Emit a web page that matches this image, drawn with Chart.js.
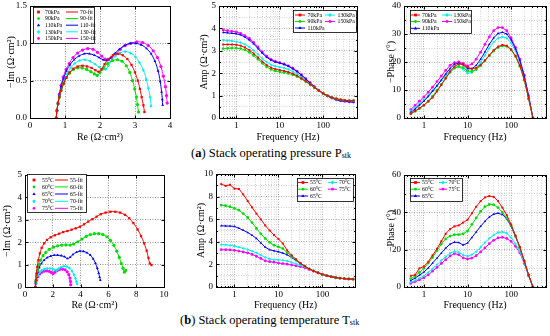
<!DOCTYPE html>
<html>
<head>
<meta charset="utf-8">
<script src="https://cdn.jsdelivr.net/npm/chart.js@4/dist/chart.umd.min.js"></script>
<style>
  html,body{margin:0;padding:0;background:#fff;}
  body{width:550px;height:336px;position:relative;overflow:hidden;}
  canvas{position:absolute;}
  .cap{position:absolute;font-family:"Liberation Serif","Times New Roman",serif;font-size:12.5px;color:#000;white-space:nowrap;line-height:14px;}
  .cap sub{font-size:8px;vertical-align:-1px;}
</style>
</head>
<body>
<div class="cap" style="left:191px;top:146px;">(<b>a</b>) Stack operating pressure P<sub>stk</sub></div>
<div class="cap" style="left:180px;top:313px;">(<b>b</b>) Stack operating temperature T<sub>stk</sub></div>
<script>
// ---------------- DATA ----------------
const pressureLabels = ['70kPa','90kPa','110kPa','130kPa','150kPa'];
const pressureFitLabels = ['70-fit','90-fit','110-fit','130-fit','150-fit'];
const tempLabels = ['55°C','60°C','65°C','70°C','75°C'];
const tempFitLabels = ['55-fit','60-fit','65-fit','70-fit','75-fit'];

const freqHz = [0.5,0.63,0.79,1.0,1.26,1.58,2.0,2.51,3.16,3.98,5.01,6.31,7.94,10.0,12.6,15.8,20.0,25.1,31.6,39.8,50.1,63.1,79.4,100,126,158,200,251,316,398,501];

// Nyquist, pressure  [Re, -Im]
const nyqP70 = [[0.75,0],[0.77,0.1],[0.80,0.19],[0.84,0.28],[0.89,0.37],[0.96,0.46],[1.04,0.54],[1.13,0.61],[1.24,0.66],[1.36,0.69],[1.50,0.70],[1.63,0.69],[1.76,0.67],[1.87,0.64],[1.96,0.62],[2.04,0.65],[2.13,0.72],[2.24,0.79],[2.37,0.84],[2.51,0.86],[2.65,0.84],[2.78,0.79],[2.90,0.71],[3.00,0.61],[3.08,0.50],[3.14,0.39],[3.19,0.28],[3.24,0.17],[3.27,0.08]];
const nyqP90 = [[0.75,0],[0.77,0.1],[0.80,0.19],[0.84,0.28],[0.89,0.37],[0.96,0.46],[1.04,0.54],[1.13,0.60],[1.24,0.65],[1.36,0.67],[1.49,0.67],[1.62,0.65],[1.74,0.62],[1.84,0.59],[1.92,0.57],[2.00,0.61],[2.10,0.67],[2.22,0.73],[2.36,0.77],[2.50,0.78],[2.63,0.76],[2.75,0.70],[2.85,0.61],[2.93,0.50],[2.99,0.39],[3.04,0.28],[3.07,0.18],[3.10,0.08]];
const nyqP110 = [[0.75,0],[0.77,0.1],[0.80,0.2],[0.84,0.31],[0.89,0.42],[0.96,0.53],[1.04,0.63],[1.14,0.71],[1.26,0.78],[1.40,0.83],[1.55,0.86],[1.70,0.86],[1.84,0.84],[1.97,0.81],[2.09,0.78],[2.19,0.77],[2.29,0.80],[2.41,0.86],[2.55,0.92],[2.70,0.97],[2.86,1.00],[3.02,1.00],[3.18,0.98],[3.33,0.93],[3.46,0.86],[3.57,0.76],[3.66,0.63],[3.72,0.49],[3.76,0.35],[3.78,0.25],[3.79,0.17]];
const nyqP130 = [[0.75,0],[0.77,0.1],[0.80,0.19],[0.84,0.29],[0.90,0.40],[0.97,0.50],[1.06,0.59],[1.16,0.67],[1.28,0.73],[1.42,0.77],[1.57,0.78],[1.72,0.76],[1.86,0.72],[1.98,0.68],[2.08,0.65],[2.16,0.65],[2.24,0.70],[2.33,0.77],[2.44,0.83],[2.57,0.87],[2.72,0.89],[2.87,0.87],[3.01,0.82],[3.13,0.74],[3.24,0.64],[3.32,0.52],[3.38,0.40],[3.43,0.28],[3.46,0.16]];
const nyqP150 = [[0.75,0],[0.77,0.1],[0.80,0.2],[0.84,0.32],[0.89,0.44],[0.95,0.55],[1.03,0.65],[1.12,0.73],[1.23,0.81],[1.36,0.87],[1.50,0.91],[1.65,0.93],[1.80,0.92],[1.93,0.88],[2.05,0.83],[2.15,0.79],[2.24,0.78],[2.33,0.81],[2.45,0.86],[2.58,0.92],[2.72,0.97],[2.88,1.00],[3.05,1.02],[3.22,1.01],[3.38,0.97],[3.52,0.90],[3.64,0.81],[3.74,0.69],[3.81,0.56],[3.87,0.42],[3.90,0.30],[3.92,0.20]];

// Bode amplitude, pressure (Ω·cm²)
const ampP70  = [3.28,3.28,3.28,3.27,3.23,3.15,3.03,2.88,2.70,2.52,2.36,2.25,2.18,2.14,2.10,2.05,1.98,1.89,1.77,1.64,1.50,1.36,1.22,1.10,1.00,0.92,0.86,0.82,0.79,0.78,0.78];
const ampP90  = [3.10,3.11,3.12,3.12,3.10,3.04,2.93,2.79,2.62,2.44,2.28,2.17,2.10,2.06,2.03,1.99,1.93,1.85,1.74,1.62,1.49,1.35,1.22,1.10,1.00,0.92,0.86,0.82,0.79,0.78,0.78];
const ampP110 = [3.82,3.80,3.78,3.76,3.71,3.61,3.48,3.31,3.10,2.89,2.71,2.58,2.50,2.45,2.39,2.31,2.20,2.07,1.91,1.74,1.56,1.39,1.23,1.09,0.98,0.89,0.82,0.77,0.74,0.72,0.71];
const ampP130 = [3.48,3.46,3.44,3.41,3.37,3.29,3.17,3.02,2.84,2.65,2.49,2.38,2.31,2.27,2.23,2.17,2.08,1.97,1.84,1.69,1.53,1.37,1.22,1.09,0.98,0.89,0.83,0.78,0.75,0.73,0.72];
const ampP150 = [3.93,3.90,3.87,3.84,3.78,3.68,3.55,3.38,3.17,2.95,2.76,2.62,2.53,2.47,2.41,2.33,2.22,2.09,1.93,1.76,1.58,1.40,1.24,1.10,0.98,0.89,0.82,0.77,0.74,0.72,0.71];

// Bode -phase, pressure (deg), up to 316 Hz
const phP70  = [1.5,2.5,3.5,4.6,5.9,7.3,9.5,11.8,14.2,16.6,18.4,19.3,19.2,18.2,17.6,17.9,19.0,20.6,22.4,24.2,25.5,26.1,25.8,24.5,22.2,18.8,13.8,7.0,0];
const phP90  = [1.5,2.4,3.4,4.5,6.0,7.8,9.9,12.0,14.2,16.3,17.8,18.4,18.0,16.8,16.6,17.3,18.7,20.4,22.2,23.9,25.2,25.8,25.6,24.3,22.0,18.5,13.5,6.8,0];
const phP110 = [2.0,3.2,4.6,6.0,7.7,9.5,11.5,13.6,15.7,17.7,19.2,19.6,19.0,17.6,17.6,18.8,21.0,23.6,26.3,28.6,30.2,30.6,30.0,27.9,24.7,20.6,15.0,7.9,0];
const phP130 = [2.5,3.7,5.0,6.5,8.1,9.9,11.6,13.4,15.2,16.9,18.2,18.3,17.4,16.0,16.2,17.6,19.8,22.3,24.9,27.1,28.5,29.0,28.5,26.8,23.9,20.0,14.7,7.7,0];
const phP150 = [3.0,4.5,6.0,7.5,9.2,11.0,13.0,15.0,17.0,18.8,19.8,20.0,19.5,18.6,19.3,21.0,23.5,26.3,29.0,31.2,32.3,32.3,31.2,28.6,25.2,21.0,15.3,8.0,0];

// Nyquist, temperature
const nyqT55 = [[0.75,0],[0.78,0.3],[0.82,0.6],[0.88,0.9],[0.96,1.19],[1.07,1.5],[1.2,1.75],[1.38,1.95],[1.58,2.1],[1.85,2.22],[2.15,2.31],[2.45,2.38],[2.75,2.45],[3.05,2.5],[3.35,2.56],[3.65,2.62],[3.95,2.69],[4.25,2.8],[4.55,2.92],[4.85,3.03],[5.15,3.14],[5.45,3.25],[5.8,3.32],[6.15,3.36],[6.5,3.36],[6.85,3.32],[7.2,3.22],[7.5,3.07],[7.8,2.85],[8.1,2.57],[8.35,2.27],[8.57,1.95],[8.75,1.62],[8.88,1.3],[8.98,1.05],[9.1,0.98]];
const nyqT60 = [[0.75,0],[0.78,0.25],[0.83,0.5],[0.9,0.75],[1.0,1.0],[1.13,1.2],[1.3,1.4],[1.5,1.55],[1.75,1.68],[2.05,1.78],[2.35,1.84],[2.65,1.87],[2.95,1.88],[3.25,1.87],[3.5,1.92],[3.8,2.02],[4.1,2.14],[4.4,2.26],[4.7,2.34],[5.0,2.38],[5.3,2.38],[5.6,2.34],[5.9,2.24],[6.15,2.08],[6.4,1.86],[6.6,1.6],[6.78,1.32],[6.93,1.05],[7.05,0.84],[7.15,0.66],[7.24,0.74]];
const nyqT65 = [[0.75,0],[0.78,0.22],[0.84,0.45],[0.92,0.67],[1.03,0.87],[1.18,1.05],[1.37,1.2],[1.6,1.31],[1.85,1.38],[2.1,1.42],[2.35,1.42],[2.6,1.4],[2.85,1.35],[3.05,1.27],[3.25,1.33],[3.45,1.45],[3.7,1.55],[3.95,1.6],[4.2,1.59],[4.45,1.53],[4.7,1.42],[4.9,1.26],[5.07,1.06],[5.2,0.84],[5.3,0.62],[5.37,0.44],[5.42,0.3]];
const nyqT70 = [[0.75,0],[0.78,0.18],[0.84,0.36],[0.93,0.52],[1.05,0.65],[1.2,0.74],[1.4,0.8],[1.6,0.83],[1.8,0.83],[2.0,0.8],[2.15,0.76],[2.28,0.75],[2.42,0.82],[2.6,0.89],[2.8,0.93],[3.0,0.91],[3.2,0.84],[3.38,0.71],[3.52,0.55],[3.63,0.38],[3.7,0.24],[3.75,0.14]];
const nyqT75 = [[0.75,0],[0.78,0.16],[0.84,0.32],[0.93,0.46],[1.05,0.58],[1.2,0.66],[1.38,0.71],[1.56,0.72],[1.74,0.7],[1.9,0.65],[2.02,0.6],[2.15,0.66],[2.32,0.74],[2.5,0.79],[2.7,0.8],[2.88,0.77],[3.03,0.68],[3.15,0.55],[3.23,0.4],[3.27,0.25],[3.29,0.1]];

// Bode amplitude, temperature
const ampT55 = [9.10,8.95,9.05,8.70,8.68,8.20,7.60,7.05,6.50,5.98,5.45,5.00,4.60,4.25,3.85,3.25,2.80,2.45,2.12,1.85,1.60,1.42,1.26,1.12,1.00,0.91,0.84,0.78,0.74,0.71,0.69];
const ampT60 = [7.25,7.20,7.10,6.95,6.80,6.50,6.15,5.70,5.18,4.70,4.29,3.95,3.70,3.55,3.40,3.05,2.70,2.40,2.10,1.84,1.60,1.42,1.26,1.12,1.00,0.91,0.84,0.78,0.74,0.71,0.69];
const ampT65 = [5.42,5.40,5.39,5.36,5.20,5.02,4.82,4.58,4.29,3.90,3.52,3.30,3.20,3.12,3.00,2.85,2.60,2.35,2.08,1.83,1.60,1.42,1.26,1.12,1.00,0.91,0.84,0.78,0.74,0.71,0.69];
const ampT70 = [3.75,3.73,3.68,3.62,3.52,3.42,3.32,3.18,3.02,2.82,2.62,2.48,2.42,2.40,2.36,2.30,2.18,2.05,1.93,1.78,1.60,1.42,1.26,1.12,1.00,0.91,0.84,0.78,0.74,0.71,0.69];
const ampT75 = [3.30,3.30,3.28,3.25,3.18,3.10,3.02,2.88,2.72,2.52,2.32,2.24,2.20,2.12,2.07,2.02,1.95,1.88,1.80,1.70,1.55,1.40,1.25,1.12,1.00,0.91,0.84,0.78,0.74,0.71,0.69];

// Bode -phase, temperature
const phT55 = [6.0,6.5,10.0,11.0,13.5,17.0,20.5,24.5,28.5,31.0,32.5,33.0,34.5,36.0,39.5,43.0,46.0,48.0,48.7,48.3,46.0,42.5,38.5,33.5,27.5,21.5,14.0,6.5,0];
const phT60 = [4.5,5.8,7.8,10.0,12.8,15.8,19.5,23.0,25.8,27.3,28.0,28.1,28.5,30.0,33.5,37.0,40.5,43.0,44.2,44.0,42.5,40.0,37.0,33.0,27.3,21.3,14.0,6.5,0];
const phT65 = [3.5,4.8,6.3,8.0,10.2,12.8,15.5,18.2,20.8,23.0,24.0,23.8,22.5,23.5,26.5,29.5,32.5,35.2,37.5,39.0,39.5,38.8,36.5,32.5,27.0,21.2,14.0,6.5,0];
const phT70 = [2.5,3.5,4.7,6.0,7.8,9.8,12.0,14.2,16.2,18.2,19.0,18.6,17.2,16.5,17.3,19.0,21.3,23.8,26.0,27.8,29.2,29.5,28.8,26.5,23.2,19.0,13.0,6.3,0];
const phT75 = [2.0,2.9,3.9,5.0,6.5,8.5,10.5,12.6,14.6,16.6,17.9,17.3,15.6,15.0,15.5,16.8,18.8,21.0,23.2,25.0,26.3,26.6,26.0,24.4,21.8,18.3,12.6,6.0,0];

// Tick labels
const nyqPxTicks = [0,1,2,3,4];
const nyqPyTicks = [0,0.5,1.0,1.5];
const nyqTxTicks = [0,2,4,6,8,10];
const nyqTyTicks = [0,1,2,3,4,5];
const freqTicks = [1,10,100];
const ampPyTicks = [0,1,2,3,4,5];
const phPyTicks = [0,10,20,30,40];
const ampTyTicks = [0,2,4,6,8,10];
const phTyTicks = [0,20,40,60];

// ---------------- STYLE ----------------
const SERIF = '"Liberation Serif","Times New Roman",serif';
const COLS = ['#ff0000','#00dd00','#0000ff','#00eeee','#ff00ff'];
const STYLES = ['rect','circle','triangle','rectRot','circle'];

function near(a,b){return Math.abs(a-b) < 1e-9*Math.max(1,Math.abs(b));}
function inList(v, list){return list.some(t => near(v,t));}

function drawMarker(ctx, style, x, y, r, color){
  ctx.fillStyle = color;
  ctx.beginPath();
  if (style === 'rect') ctx.rect(x-r, y-r, 2*r, 2*r);
  else if (style === 'triangle'){ ctx.moveTo(x, y-r*1.3); ctx.lineTo(x+r*1.2, y+r*0.8); ctx.lineTo(x-r*1.2, y+r*0.8); ctx.closePath(); }
  else if (style === 'rectRot'){ ctx.moveTo(x, y-r*1.35); ctx.lineTo(x+r*1.35, y); ctx.lineTo(x, y+r*1.35); ctx.lineTo(x-r*1.35, y); ctx.closePath(); }
  else ctx.arc(x, y, r, 0, Math.PI*2);
  ctx.fill();
}

const framePlugin = {
  id: 'frameBox',
  afterDraw(chart){
    const {ctx, chartArea: a, scales} = chart;
    ctx.save();
    ctx.strokeStyle = '#000';
    ctx.lineWidth = 1;
    const L = Math.round(a.left)+0.5, T = Math.round(a.top)+0.5, R = Math.round(a.right)+0.5, B = Math.round(a.bottom)+0.5;
    ctx.strokeRect(L, T, R-L, B-T);
    ctx.beginPath();
    scales.x.ticks.forEach(t => {
      const p = Math.round(scales.x.getPixelForValue(t.value))+0.5;
      const len = t.label ? 3 : 1.5;
      ctx.moveTo(p, B); ctx.lineTo(p, B-len);
      ctx.moveTo(p, T); ctx.lineTo(p, T+len);
    });
    scales.y.ticks.forEach(t => {
      const p = Math.round(scales.y.getPixelForValue(t.value))+0.5;
      const len = t.label ? 3 : 1.5;
      ctx.moveTo(L, p); ctx.lineTo(L+len, p);
      ctx.moveTo(R, p); ctx.lineTo(R-len, p);
    });
    ctx.stroke();
    ctx.restore();
  }
};

function makeLegendPlugin(lg, box){
  return {
    id: 'boxLegend',
    afterDraw(chart){
      const ctx = chart.ctx;
      const ox = box.x, oy = box.y;
      ctx.save();
      ctx.fillStyle = '#fff';
      ctx.fillRect(lg.x-ox, lg.y-oy, lg.w, lg.h);
      ctx.strokeStyle = '#000';
      ctx.lineWidth = 0.8;
      ctx.strokeRect(lg.x-ox+0.5, lg.y-oy+0.5, lg.w, lg.h);
      ctx.font = '5.8px ' + SERIF;
      ctx.textBaseline = 'middle';
      lg.items.forEach(it => {
        const c = lg.cols[it.col];
        const y = lg.rows[it.row] - oy;
        if (it.line){
          ctx.strokeStyle = it.color; ctx.lineWidth = 1;
          ctx.beginPath(); ctx.moveTo(c.l1-ox, y); ctx.lineTo(c.l2-ox, y); ctx.stroke();
        }
        if (it.marker){
          drawMarker(ctx, it.style, (it.line ? (c.l1+c.l2)/2 : c.m) - ox, y, 1.4, it.color);
        }
        ctx.fillStyle = '#000';
        ctx.fillText(it.text, c.t-ox, y+0.3);
      });
      ctx.restore();
    }
  };
}

function logGrid(min, max){
  const out = [];
  for (let e = -1; e <= 3; e++){
    for (let m = 1; m <= 9; m++){
      const v = +(m*Math.pow(10,e)).toPrecision(6);
      if (v >= min-1e-9 && v <= max+1e-9) out.push(v);
    }
  }
  return out;
}
function linGrid(min, max, step){
  const out = [];
  for (let v = min; v <= max+1e-9; v += step) out.push(+v.toFixed(6));
  return out;
}

function makeChart(spec){
  const box = spec.box, plot = spec.plot;
  const cv = document.createElement('canvas');
  cv.width = box.w; cv.height = box.h;
  cv.style.left = box.x+'px'; cv.style.top = box.y+'px';
  cv.style.width = box.w+'px'; cv.style.height = box.h+'px';
  document.body.appendChild(cv);
  const padL = plot.l - box.x, padR = box.x + box.w - plot.r;
  const padT = plot.t - box.y, padB = box.y + box.h - plot.b;
  const tickFont = {family: SERIF, size: 9};
  const titleFont = {family: SERIF, size: 10};
  const majorCol = spec.gridMajor, minorCol = spec.gridMinor;
  new Chart(cv, {
    type: 'line',
    data: {datasets: spec.datasets},
    options: {
      responsive: false,
      animation: false,
      devicePixelRatio: 1,
      events: [],
      layout: {padding: {left: 0, top: padT, right: padR, bottom: 0}},
      plugins: {legend: {display: false}, tooltip: {enabled: false}},
      scales: {
        x: {
          type: spec.xType, min: spec.xMin, max: spec.xMax, position: 'bottom',
          afterBuildTicks: s => { s.ticks = spec.xGrid.map(v => ({value: v})); },
          afterFit: s => { s.height = padB; s.paddingLeft = 0; s.paddingRight = 0; },
          ticks: {font: tickFont, color: '#000', padding: 2, maxRotation: 0, autoSkip: false,
                  callback: v => inList(v, spec.xLabels) ? spec.xFmt(v) : ''},
          grid: {drawTicks: false, lineWidth: 0.8,
                 color: c => (c.tick && inList(c.tick.value, spec.xLabels)) ? majorCol : minorCol},
          border: {display: false, dash: [1,1.5]},
          title: {display: true, text: spec.xTitle, font: titleFont, color: '#000', padding: {top: 0, bottom: spec.xTitlePad}}
        },
        y: {
          type: 'linear', min: spec.yMin, max: spec.yMax, position: 'left',
          afterBuildTicks: s => { s.ticks = spec.yGrid.map(v => ({value: v})); },
          afterFit: s => { s.width = padL; s.paddingTop = 0; s.paddingBottom = 0; },
          ticks: {font: tickFont, color: '#000', padding: 3, autoSkip: false,
                  callback: v => inList(v, spec.yLabels) ? spec.yFmt(v) : ''},
          grid: {drawTicks: false, lineWidth: 0.8,
                 color: c => (c.tick && inList(c.tick.value, spec.yLabels)) ? majorCol : minorCol},
          border: {display: false, dash: [1,1.5]},
          title: {display: true, text: spec.yTitle, font: titleFont, color: '#000', padding: {top: spec.yTitlePad, bottom: 0}}
        }
      }
    },
    plugins: [framePlugin, makeLegendPlugin(spec.legend, box)]
  });
}

function nyqDatasets(series, labels, fitLabels){
  const ds = [];
  series.forEach((pts, i) => {
    const d = pts.map(p => ({x: p[0], y: p[1]}));
    ds.push({label: fitLabels[i], data: d, showLine: true, borderColor: COLS[i], borderWidth: 1,
             pointRadius: 0, tension: 0.4, fill: false});
    ds.push({label: labels[i], data: d, showLine: false, backgroundColor: COLS[i], borderColor: COLS[i],
             pointRadius: 1.6, pointBorderWidth: 0, pointStyle: STYLES[i]});
  });
  return ds;
}
function bodeDatasets(series, labels){
  return series.map((arr, i) => ({
    label: labels[i],
    data: arr.map((v, k) => ({x: freqHz[k], y: v})),
    borderColor: COLS[i], backgroundColor: COLS[i], borderWidth: 1,
    pointRadius: 1.4, pointBorderWidth: 0, pointStyle: STYLES[i], tension: 0, fill: false
  }));
}

function nyqLegend(pos, labels, fitLabels){
  const items = [];
  labels.forEach((t, i) => {
    items.push({col: 0, row: i, marker: true, line: false, style: STYLES[i], color: COLS[i], text: t});
    items.push({col: 1, row: i, marker: false, line: true, color: COLS[i], text: fitLabels[i]});
  });
  return Object.assign({items}, pos);
}
function bodeLegend(pos, labels){
  const items = labels.map((t, i) => ({col: i < 3 ? 0 : 1, row: i < 3 ? i : i-3, marker: true, line: true,
                                        style: STYLES[i], color: COLS[i], text: t}));
  return Object.assign({items}, pos);
}

const fmtInt = v => String(Math.round(v));
const fmt1 = v => v.toFixed(1);
const OHM = 'Ω·cm²';

// ---- (a) pressure ----
makeChart({
  box: {x: 0, y: 0, w: 182, h: 146}, plot: {l: 30, r: 170, t: 6, b: 118},
  xType: 'linear', xMin: 0, xMax: 4, xGrid: nyqPxTicks, xLabels: nyqPxTicks, xFmt: fmtInt,
  yMin: 0, yMax: 1.5, yGrid: nyqPyTicks, yLabels: nyqPyTicks, yFmt: fmt1,
  xTitle: 'Re (' + OHM + ')', yTitle: '\u2212Im (' + OHM + ')', xTitlePad: 3, yTitlePad: 5,
  gridMajor: '#777', gridMinor: '#777',
  datasets: nyqDatasets([nyqP70, nyqP90, nyqP110, nyqP130, nyqP150], pressureLabels, pressureFitLabels),
  legend: nyqLegend({x: 33, y: 7, w: 61, h: 36, rows: [12, 18.6, 25.2, 31.8, 38.4],
                     cols: [{m: 38.5, t: 45}, {l1: 66, l2: 78, t: 80}]}, pressureLabels, pressureFitLabels)
});
makeChart({
  box: {x: 182, y: 0, w: 184, h: 146}, plot: {l: 219, r: 357, t: 6, b: 118},
  xType: 'logarithmic', xMin: 0.4, xMax: 600, xGrid: logGrid(0.4, 600), xLabels: freqTicks, xFmt: fmtInt,
  yMin: 0, yMax: 5, yGrid: linGrid(0, 5, 0.5), yLabels: ampPyTicks, yFmt: fmtInt,
  xTitle: 'Frequency (Hz)', yTitle: 'Amp (' + OHM + ')', xTitlePad: 3, yTitlePad: 16,
  gridMajor: '#999', gridMinor: '#c8c8c8',
  datasets: bodeDatasets([ampP70, ampP90, ampP110, ampP130, ampP150], pressureLabels),
  legend: bodeLegend({x: 293, y: 10, w: 63, h: 22, rows: [15, 21.5, 28],
                      cols: [{l1: 295, l2: 305, t: 307.5}, {l1: 325, l2: 335, t: 337.5}]}, pressureLabels)
});
makeChart({
  box: {x: 366, y: 0, w: 184, h: 146}, plot: {l: 404, r: 547, t: 6, b: 118},
  xType: 'logarithmic', xMin: 0.35, xMax: 630, xGrid: logGrid(0.35, 630), xLabels: freqTicks, xFmt: fmtInt,
  yMin: 0, yMax: 40, yGrid: linGrid(0, 40, 5), yLabels: phPyTicks, yFmt: fmtInt,
  xTitle: 'Frequency (Hz)', yTitle: '\u2212Phase (°)', xTitlePad: 3, yTitlePad: 19,
  gridMajor: '#999', gridMinor: '#c8c8c8',
  datasets: bodeDatasets([phP70, phP90, phP110, phP130, phP150], pressureLabels),
  legend: bodeLegend({x: 410, y: 10, w: 61, h: 23, rows: [15, 21.5, 28.3],
                      cols: [{l1: 411, l2: 420, t: 422}, {l1: 442, l2: 452, t: 453.5}]}, pressureLabels)
});

// ---- (b) temperature ----
makeChart({
  box: {x: 0, y: 160, w: 182, h: 152}, plot: {l: 25, r: 164, t: 175, b: 287},
  xType: 'linear', xMin: 0, xMax: 10, xGrid: nyqTxTicks, xLabels: nyqTxTicks, xFmt: fmtInt,
  yMin: 0, yMax: 5, yGrid: nyqTyTicks, yLabels: nyqTyTicks, yFmt: fmtInt,
  xTitle: 'Re (' + OHM + ')', yTitle: '\u2212Im (' + OHM + ')', xTitlePad: 1, yTitlePad: 1,
  gridMajor: '#777', gridMinor: '#777',
  datasets: nyqDatasets([nyqT55, nyqT60, nyqT65, nyqT70, nyqT75], tempLabels, tempFitLabels),
  legend: nyqLegend({x: 27, y: 174, w: 59, h: 38, rows: [180, 186.9, 194, 201.3, 208.3],
                     cols: [{m: 34, t: 42}, {l1: 55, l2: 68, t: 70}]}, tempLabels, tempFitLabels)
});
makeChart({
  box: {x: 182, y: 160, w: 184, h: 152}, plot: {l: 216, r: 355, t: 174, b: 287},
  xType: 'logarithmic', xMin: 0.38, xMax: 552, xGrid: logGrid(0.38, 552), xLabels: freqTicks, xFmt: fmtInt,
  yMin: 0, yMax: 10, yGrid: linGrid(0, 10, 1), yLabels: ampTyTicks, yFmt: fmtInt,
  xTitle: 'Frequency (Hz)', yTitle: 'Amp (' + OHM + ')', xTitlePad: 1, yTitlePad: 13,
  gridMajor: '#999', gridMinor: '#c8c8c8',
  datasets: bodeDatasets([ampT55, ampT60, ampT65, ampT70, ampT75], tempLabels),
  legend: bodeLegend({x: 297, y: 178, w: 56, h: 23, rows: [182.5, 189.2, 196],
                      cols: [{l1: 298, l2: 308, t: 310}, {l1: 328, l2: 337, t: 339}]}, tempLabels)
});
makeChart({
  box: {x: 366, y: 160, w: 184, h: 152}, plot: {l: 404, r: 547, t: 175, b: 287},
  xType: 'logarithmic', xMin: 0.35, xMax: 630, xGrid: logGrid(0.35, 630), xLabels: freqTicks, xFmt: fmtInt,
  yMin: 0, yMax: 60, yGrid: linGrid(0, 60, 10), yLabels: phTyTicks, yFmt: fmtInt,
  xTitle: 'Frequency (Hz)', yTitle: '\u2212Phase (°)', xTitlePad: 1, yTitlePad: 19,
  gridMajor: '#999', gridMinor: '#c8c8c8',
  datasets: bodeDatasets([phT55, phT60, phT65, phT70, phT75], tempLabels),
  legend: bodeLegend({x: 410, y: 178, w: 52, h: 23, rows: [182.5, 189.2, 196],
                      cols: [{l1: 411, l2: 420, t: 422}, {l1: 439, l2: 447, t: 448.5}]}, tempLabels)
});
</script>
</body>
</html>
